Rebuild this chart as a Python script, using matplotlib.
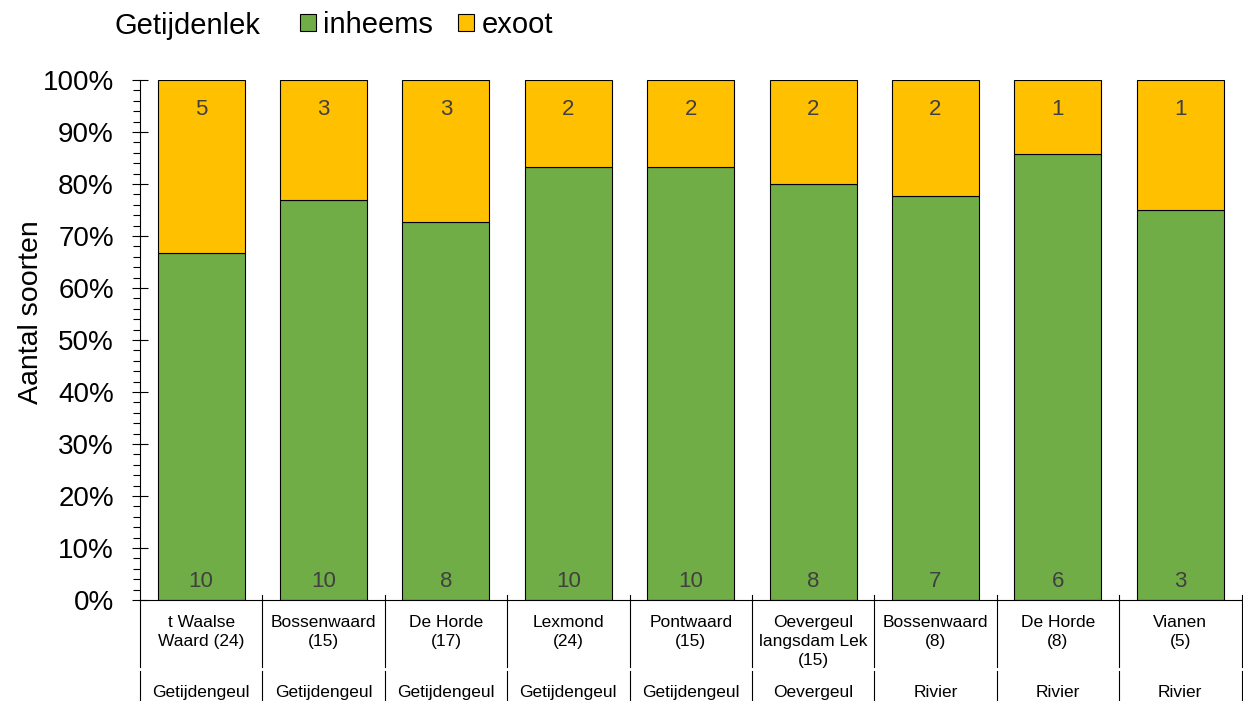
import numpy as np
import matplotlib
matplotlib.use("Agg")
import matplotlib.pyplot as plt
from matplotlib.ticker import MultipleLocator, PercentFormatter
import matplotlib.transforms as mtransforms

plt.rcParams["font.family"] = ["Liberation Sans", "DejaVu Sans"]

# species counts per location, split native / exotic
locations = ["t Waalse\nWaard (24)", "Bossenwaard\n(15)", "De Horde\n(17)", "Lexmond\n(24)",
             "Pontwaard\n(15)", "Oevergeul\nlangsdam Lek\n(15)", "Bossenwaard\n(8)",
             "De Horde\n(8)", "Vianen\n(5)"]
habitats = ["Getijdengeul", "Getijdengeul", "Getijdengeul", "Getijdengeul", "Getijdengeul",
            "Oevergeul", "Rivier", "Rivier", "Rivier"]
inheems = np.array([10, 10, 8, 10, 10, 8, 7, 6, 3])
exoot = np.array([5, 3, 3, 2, 2, 2, 2, 1, 1])

green = "#70AD47"
yellow = "#FFC000"
label_col = "#404040"

total = inheems + exoot
pct_in = inheems / total * 100
pct_ex = exoot / total * 100

fig = plt.figure(figsize=(12.43, 7.01), dpi=100)
ax = fig.add_axes([0.1126, 0.1441, 0.8862, 0.7418])

x = np.arange(len(locations))
b1 = ax.bar(x, pct_in, width=0.71, color=green, edgecolor="black", linewidth=0.8, label="inheems")
b2 = ax.bar(x, pct_ex, bottom=pct_in, width=0.71, color=yellow, edgecolor="black", linewidth=0.8, label="exoot")

# counts inside the bars
for i in x:
    ax.text(i, 3.6, str(inheems[i]), ha="center", va="center", fontsize=16, color=label_col)
    ax.text(i, 94.3, str(exoot[i]), ha="center", va="center", fontsize=16, color=label_col)

ax.set_xlim(-0.5, len(locations) - 0.5)
ax.set_ylim(0, 100)
ax.yaxis.set_major_locator(MultipleLocator(10))
ax.yaxis.set_minor_locator(MultipleLocator(2))
ax.yaxis.set_major_formatter(PercentFormatter(decimals=0))
ax.tick_params(axis="y", which="major", direction="inout", length=11.5, width=0.8, labelsize=20, pad=13)
ax.tick_params(axis="y", which="minor", direction="out", length=5, width=0.8)
ax.set_xticks([])
for s in ["top", "right"]:
    ax.spines[s].set_visible(False)
ax.spines["left"].set_linewidth(0.8)
ax.spines["bottom"].set_linewidth(0.8)
ax.set_ylabel("Aantal soorten", fontsize=20.5)
ax.yaxis.set_label_coords(-0.087, 0.553)

# two-level category axis
trans = mtransforms.blended_transform_factory(ax.transData, ax.transAxes)
for i in range(len(locations) + 1):
    xs = i - 0.5
    top = 0.0 if i == 0 else 0.0096
    ax.plot([xs, xs], [top, -0.129], color="black", lw=0.8, transform=trans, clip_on=False)
    ax.plot([xs, xs], [-0.137, -0.3], color="black", lw=0.8, transform=trans, clip_on=False)
for i, (loc, hab) in enumerate(zip(locations, habitats)):
    ax.text(i, -0.029, loc, transform=trans, ha="center", va="top", fontsize=12.5,
            linespacing=1.33)
    ax.text(i, -0.177, hab, transform=trans, ha="center", va="center", fontsize=12.5)

# legend across the top
fig.text(115 / 1243, 1 - 26 / 701, "Getijdenlek", fontsize=21, ha="left", va="center")
fig.legend(handles=[b1, b2], loc="center left", bbox_to_anchor=(300 / 1243, 1 - 25 / 701),
           ncol=2, frameon=False, fontsize=21, handlelength=0.55, handleheight=0.55,
           handletextpad=0.25, columnspacing=0.85, borderpad=0, borderaxespad=0)

fig.savefig("out.png", dpi=100)
